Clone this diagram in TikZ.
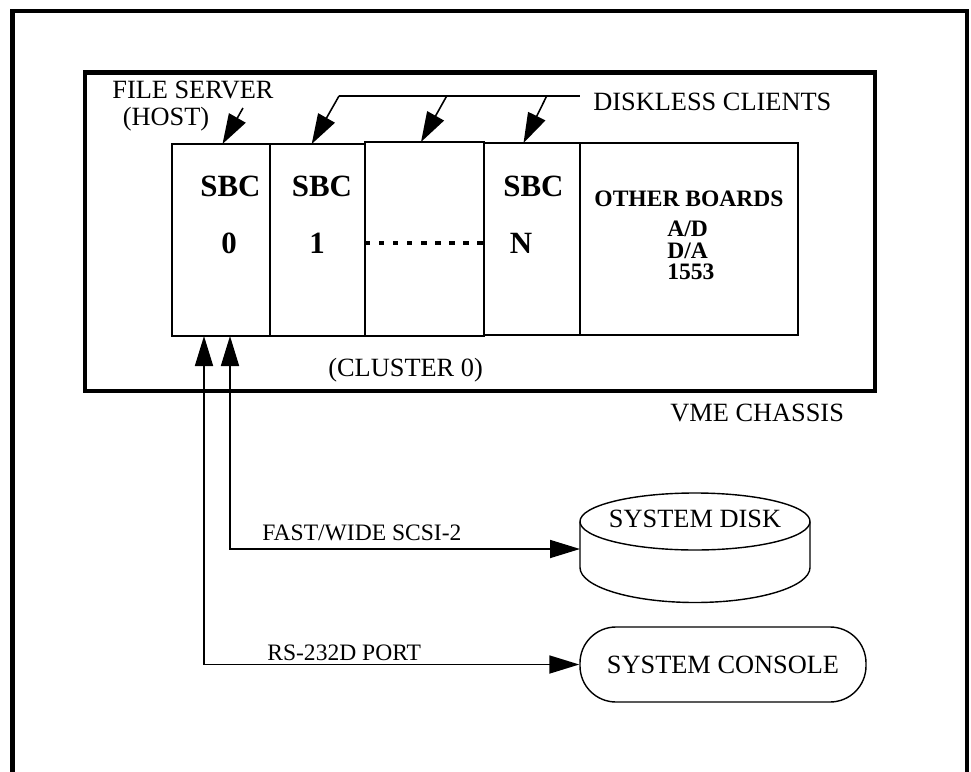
\documentclass[tikz,border=0pt]{standalone}
\usepackage{fontspec}
\setmainfont{Liberation Serif}
\usetikzlibrary{arrows.meta,positioning,calc,shapes.geometric}
\tikzset{
  frame/.style={line width=2.5pt},
  chassis/.style={line width=2.4pt},
  board/.style={draw,line width=1.1pt,anchor=south west,inner sep=0pt,outer sep=0pt,
    minimum height=3.84cm},
  txt/.style={font=\fontsize{15}{18}\selectfont,inner sep=0pt,anchor=base west},
  stxt/.style={font=\fontsize{13.4}{16}\selectfont,inner sep=0pt,anchor=base west},
  sbc/.style={font=\fontsize{17.6}{21}\selectfont\bfseries,inner sep=0pt,anchor=base},
  obd/.style={font=\fontsize{13.4}{12.2}\selectfont\bfseries,inner sep=0pt},
  dotline/.style={line width=2.2pt,dash pattern=on 3pt off 5pt},
  ar/.style={-{Triangle[length=6mm,width=3.8mm]},line width=0.9pt},
  dbl/.style={{Triangle[length=6mm,width=3.6mm]}-{Triangle[length=6mm,width=3.6mm]},
    line width=1pt},
  unit/.style={line width=0.8pt},
}

\begin{document}
\begin{tikzpicture}
  \useasboundingbox (0,0) rectangle (19.42,-15.44);
  % outer frame, open at the bottom
  \draw[frame] (0.25,-15.6) -- (0.25,-0.22) -- (19.34,-0.22) -- (19.34,-15.6);
  % VME chassis
  \draw[chassis] (1.70,-1.45) rectangle (17.5,-7.82);
  % boards in the cluster
  \node[board,minimum width=1.96cm] (sbc0) at (3.44,-6.72) {};
  \node[board,minimum width=1.90cm,right=0pt of sbc0] (sbc1) {};
  \node[board,minimum width=2.38cm,minimum height=3.88cm] (dots) at (sbc1.south east) {};
  \node[board,minimum width=1.92cm,right=0pt of dots] (sbcN) {};
  \node[board,minimum width=4.36cm,right=0pt of sbcN] (other) {};
  \node[sbc] (t0) at (4.61,-3.93) {SBC};
  \node[sbc] (n0) at (4.58,-5.06) {0};
  \node[sbc] (t1) at (6.44,-3.93) {SBC};
  \node[sbc] (n1) at (6.34,-5.06) {1};
  \node[sbc] (tN) at (10.67,-3.93) {SBC};
  \node[sbc] (nN) at (10.42,-5.06) {N};
  \draw[dotline] ($(dots.west)+(0,-0.08)$) -- ($(dots.east)+(0,-0.08)$);
  \node[obd,anchor=base] (obt) at (13.78,-4.12) {OTHER BOARDS};
  \node[obd,anchor=north west,align=left] (obl) at (13.34,-4.42) {A/D\\D/A\\1553};
  % callouts on top
  \node[txt] (fs) at (2.24,-1.96) {FILE SERVER};
  \node[txt] (host) at (2.45,-2.50) {(HOST)};
  \node[txt] (clients) at (11.86,-2.20) {DISKLESS CLIENTS};
  \coordinate (fsA) at (4.86,-2.16);
  \coordinate (ldr1) at (6.78,-1.92);
  \coordinate (ldr2) at (8.934,-1.92);
  \coordinate (ldr3) at (10.934,-1.92);
  \draw[ar] (fsA) -- ($(sbc0.north)+(0.03,0)$);
  \draw[line width=0.9pt] (ldr1) -- ($(ldr1 -| clients.west)+(-0.26,0)$);
  \draw[ar] (ldr1) -- ($(sbc1.north)+(-0.116,0)$);
  \draw[ar] (ldr2) -- ($(dots.north)+(-0.07,0)$);
  \draw[ar] (ldr3) -- ($(sbcN.north)+(-0.17,0)$);
  \node[txt] (cluster) at (6.56,-7.52) {(CLUSTER 0)};
  \node[txt] (vme) at (13.4,-8.43) {VME CHASSIS};
  % disk and console
  \node[txt,anchor=center] (disk) at (13.9,-10.37) {SYSTEM DISK};
  \draw[unit] (13.9,-10.43) ellipse[x radius=2.3cm,y radius=0.57cm];
  \draw[unit] (11.6,-10.43) -- ++(0,-0.92)
    arc[start angle=180,end angle=360,x radius=2.3cm,y radius=0.7cm] -- ++(0,0.92);
  \node[unit,draw,txt,anchor=center,rounded corners=0.72cm,minimum width=5.72cm,
    minimum height=1.5cm] (console) at (14.46,-13.29) {SYSTEM CONSOLE};
  \coordinate (dskin) at (11.6,-10.98);
  \node[stxt] (scsi) at (5.24,-10.8) {FAST/WIDE SCSI-2};
  \node[stxt] (rs) at (5.34,-13.2) {RS-232D PORT};
  \draw[dbl] ($(sbc0.south)+(0.18,0)$) |- (dskin);
  \draw[dbl] ($(sbc0.south)+(-0.34,0)$) |- (console.west);
\end{tikzpicture}
\end{document}
